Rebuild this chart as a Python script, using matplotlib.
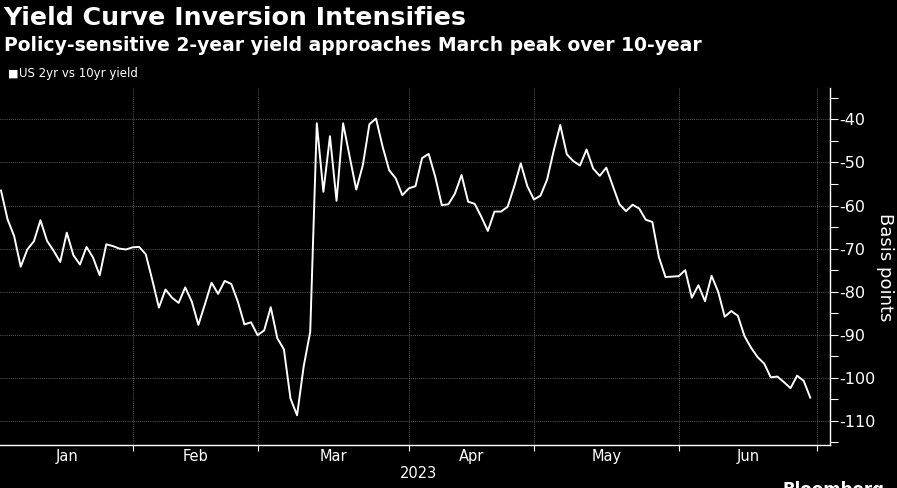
import matplotlib
matplotlib.use("Agg")
import matplotlib.pyplot as plt
import numpy as np

# trading-day index from Jan 3 2023, 2s10s spread in basis points
spread = [
    -56.5, -63.2, -67.1, -74.2, -70.2, -68.3, -63.4, -68.2, -70.5, -73.1,
    -66.3, -71.5, -73.7, -69.6, -72.1, -76.2, -69.0, -69.4, -70.0, -70.2,
    -69.7, -69.6, -71.3, -77.3, -83.7, -79.5, -81.4, -82.6, -79.0, -82.3,
    -87.7, -82.9, -77.9, -80.5, -77.5, -78.2, -82.3, -87.6, -87.1, -90.1,
    -89.0, -83.6, -90.8, -93.4, -104.8, -108.7, -97.4, -89.3, -40.9, -56.8,
    -43.9, -58.9, -40.9, -48.7, -56.3, -50.6, -41.1, -39.8, -46.3, -51.8,
    -53.7, -57.6, -56.0, -55.5, -49.0, -48.0, -53.3, -59.9, -59.7, -57.2,
    -52.9, -59.1, -59.6, -62.6, -65.9, -61.4, -61.4, -60.3, -55.6, -50.2,
    -55.5, -58.6, -57.7, -54.0, -47.3, -41.3, -48.1, -49.7, -50.7, -47.0,
    -51.4, -53.1, -51.2, -55.5, -59.7, -61.3, -59.8, -60.7, -63.3, -63.8,
    -72.0, -76.6, -76.5, -76.4, -75.0, -81.4, -78.5, -82.2, -76.3, -80.0,
    -85.8, -84.5, -85.6, -90.3, -93.0, -95.2, -96.7, -99.9, -99.7, -101.0,
    -102.4, -99.5, -100.7, -104.6,
]
month_starts = [20, 39, 62, 81, 103, 124]
month_names = ["Jan", "Feb", "Mar", "Apr", "May", "Jun"]
month_mid = [10, 29.5, 50.5, 71.5, 92, 113.5]
y_ticks = [-40, -50, -60, -70, -80, -90, -100, -110]

bg = "black"
fig = plt.figure(figsize=(8.97, 4.88), dpi=100, facecolor=bg)
ax = fig.add_axes([0.0, 0.0881, 0.9253, 0.7316], facecolor=bg)

x = np.arange(len(spread))
ax.plot(x, spread, color="white", lw=1.4)

ax.set_xlim(-0.15, 126)
ax.set_ylim(-115.6, -32.7)

# gridlines
for v in y_ticks:
    ax.axhline(v, color="#7a7a7a", lw=0.6, ls=(0, (1, 1.5)), zorder=0)
for m in month_starts:
    ax.axvline(m, color="#7a7a7a", lw=0.6, ls=(0, (1, 1.5)), zorder=0)

for s in ["left", "top"]:
    ax.spines[s].set_visible(False)
ax.spines["bottom"].set_color("white")
ax.spines["right"].set_color("white")
ax.spines["bottom"].set_linewidth(1.0)
ax.spines["right"].set_linewidth(1.0)

ax.yaxis.tick_right()
ax.set_yticks(y_ticks)
ax.set_yticklabels([str(v) for v in y_ticks])
ax.set_yticks(np.arange(-115, -30, 5), minor=True)
ax.tick_params(axis="y", which="both", colors="white", length=6, width=0.8,
               labelsize=11.5, pad=1, direction="out")
fig.text(885 / 897, 1 - 267 / 488, "Basis points", color="white", fontsize=13,
         rotation=270, ha="center", va="center")

ax.set_xticks(month_starts)
ax.set_xticklabels([])
ax.tick_params(axis="x", which="major", colors="white", length=4, width=0.8)
for mm, nm in zip(month_mid, month_names):
    ax.text(mm, -0.011, nm, transform=ax.get_xaxis_transform(), color="white",
            fontsize=10.5, ha="center", va="top")
ax.text(418 / 897, 1 - 474 / 488, "2023", transform=fig.transFigure,
        color="white", fontsize=10.5, ha="center", va="center")

fig.text(0.004, 1 - 18 / 488, "Yield Curve Inversion Intensifies", color="white",
         fontsize=18.2, fontweight="bold", ha="left", va="center")
fig.text(0.004, 1 - 46 / 488,
         "Policy-sensitive 2-year yield approaches March peak over 10-year",
         color="white", fontsize=13.5, fontweight="bold", ha="left", va="center")
fig.text(0.009, 1 - 74 / 488, "\u25a0", color="white", fontsize=8,
         ha="left", va="center")
fig.text(0.021, 1 - 74 / 488, "US 2yr vs 10yr yield", color="white",
         fontsize=8.5, ha="left", va="center")
fig.text(782 / 897, 1 - 481 / 488, "Bloomberg", color="white", fontsize=12,
         fontweight="bold", ha="left", va="top")

fig.savefig("out.png", dpi=100, facecolor=bg)
